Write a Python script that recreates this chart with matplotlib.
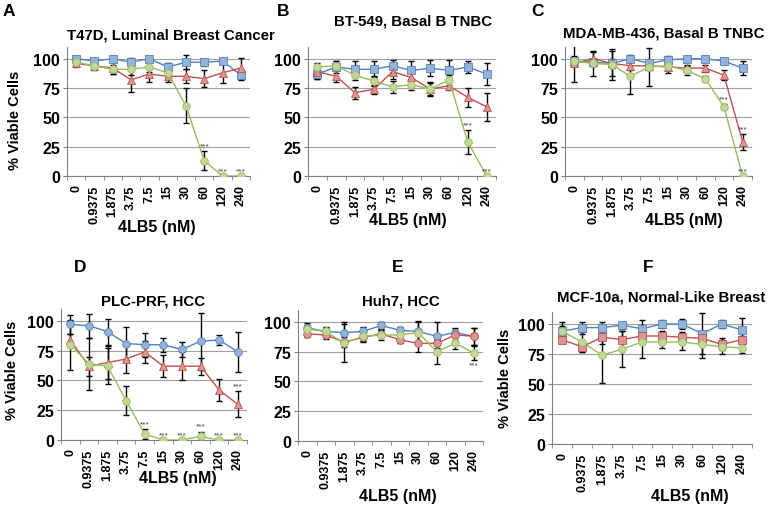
import numpy as np
import matplotlib
matplotlib.use("Agg")
import matplotlib.pyplot as plt

plt.rcParams['font.family'] = ['Liberation Sans', 'DejaVu Sans']
plt.rcParams['font.weight'] = 'bold'

# === data ===
doses = ["0", "0.9375", "1.875", "3.75", "7.5", "15", "30", "60", "120", "240"]

a_blue = [100, 98, 100, 97, 100, 93, 97, 97, 98, 86]
a_blue_err = [2, 3, 2, 4, 2, 3, 6, 3, 2, 4]
a_red = [96, 94, 92, 82, 87, 85, 85, 83, 88, 92]
a_red_err = [3, 4, 5, 10, 7, 5, 6, 7, 9, 9]
a_green = [97, 94, 91, 91, 93, 88, 60, 13, 0, 0]
a_green_err = [2, 3, 4, 5, 4, 4, 15, 8, 0, 0]

b_blue = [87, 93, 91, 91, 94, 90, 92, 90, 93, 87]
b_blue_err = [4, 5, 7, 7, 5, 8, 7, 9, 5, 9]
b_red = [89, 85, 71, 74, 89, 84, 74, 77, 67, 59]
b_red_err = [6, 5, 5, 4, 6, 8, 6, 4, 8, 12]
b_green = [93, 94, 86, 81, 76, 78, 74, 82, 29, 0]
b_green_err = [3, 4, 4, 4, 5, 5, 5, 4, 10, 0]

c_blue = [98, 97, 96, 100, 96, 99, 100, 100, 98, 92]
c_blue_err = [4, 3, 4, 3, 3, 3, 2, 2, 2, 6]
c_red = [96, 100, 96, 94, 94, 93, 92, 92, 86, 29]
c_red_err = [16, 6, 11, 4, 4, 3, 3, 3, 4, 7]
c_green = [98, 96, 95, 85, 93, 94, 90, 83, 59, 0]
c_green_err = [3, 11, 13, 15, 16, 6, 4, 2, 2, 0]

d_blue = [97, 96, 91, 81, 80, 80, 76, 83, 84, 74]
d_blue_err = [8, 10, 11, 14, 10, 6, 6, 24, 4, 17]
d_red = [84, 62, 65, 68, 74, 62, 62, 62, 42, 30]
d_red_err = [5, 8, 14, 12, 9, 9, 12, 7, 9, 11]
d_green = [80, 64, 62, 33, 5, 0, 0, 3, 0, 0]
d_green_err = [21, 22, 15, 12, 4, 0, 0, 4, 0, 0]

e_blue = [95, 92, 91, 92, 97, 93, 92, 88, 91, 88]
e_blue_err = [4, 4, 9, 4, 3, 3, 9, 12, 4, 7]
e_red = [90, 89, 83, 87, 90, 85, 82, 82, 89, 88]
e_red_err = [3, 3, 4, 4, 3, 3, 7, 4, 4, 7]
e_green = [94, 92, 82, 88, 89, 89, 91, 75, 82, 74]
e_green_err = [3, 3, 16, 4, 4, 4, 9, 10, 5, 6]

f_blue = [94, 97, 97, 99, 96, 100, 100, 92, 100, 95]
f_blue_err = [8, 5, 5, 3, 7, 3, 4, 17, 3, 10]
f_red = [87, 81, 89, 87, 90, 90, 89, 88, 83, 87]
f_red_err = [3, 4, 6, 7, 4, 4, 4, 3, 5, 3]
f_green = [94, 85, 74, 79, 85, 85, 85, 83, 81, 80]
f_green_err = [4, 8, 23, 15, 13, 5, 7, 11, 6, 4]

# significance marks: (series, index)
a_stars = [("green", 7), ("green", 8), ("green", 9)]
b_stars = [("green", 8), ("green", 9)]
c_stars = [("green", 8), ("red", 9), ("green", 9)]
d_stars = [("green", i) for i in range(4, 10)] + [("red", 9)]
e_stars = [("green", 9)]
f_stars = []

line_colors = {"blue": "#4F81BD", "red": "#C0504D", "green": "#9BBB59"}
face_colors = {"blue": "#95B3D7", "red": "#D99694", "green": "#C3D69B"}

W, H = 768, 510
fig = plt.figure(figsize=(W / 100, H / 100), dpi=100)


def px(x, y):
    return x / W, 1 - y / H


def draw_panel(box, letter, letter_xy, title, title_xy, xlabel_xy, ylabel_xy,
               series, markers, stars, stars_below=False):
    x0, x1, y0, y1 = box
    ax = fig.add_axes([x0 / W, 1 - y1 / H, (x1 - x0) / W, (y1 - y0) / H])
    x = np.arange(len(doses))
    for name in ["blue", "red", "green"]:
        mean, err = series[name]
        ax.errorbar(x, mean, yerr=err, fmt='none', ecolor='black', elinewidth=1.0,
                    capsize=2.5, capthick=1.0, zorder=2)
        ax.plot(x, mean, color=line_colors[name], lw=1.0, marker=markers[name], ms=5.5,
                mfc=face_colors[name], mec=line_colors[name], mew=0.6, zorder=3)
    for name, i in stars:
        mean, err = series[name]
        if stars_below:
            y = mean[i] - err[i] - 7
        else:
            y = mean[i] + err[i] + 1.5
        ax.text(i, y, "***", ha='center', va='bottom', fontsize=6, color='#404040',
                fontweight='normal')
    ax.set_xlim(-0.5, len(doses) - 0.5)
    ax.set_ylim(0, 110)
    ax.set_yticks([0, 25, 50, 75, 100])
    ax.yaxis.grid(True, color='#a0a0a0', lw=0.8)
    ax.set_axisbelow(True)
    ax.set_xticks(x)
    ax.set_xticklabels(doses, rotation=90, fontsize=9, fontweight='bold')
    ax.set_xticks(np.arange(len(doses) + 1) - 0.5, minor=True)
    ax.tick_params(axis='x', which='major', length=0, pad=6)
    ax.tick_params(axis='x', which='minor', length=3, color='#808080', direction='out')
    ax.tick_params(axis='y', length=3, color='#808080', labelsize=11.5, pad=2)
    for lab in ax.get_yticklabels():
        lab.set_fontweight('bold')
    for s in ['top', 'right']:
        ax.spines[s].set_visible(False)
    for s in ['left', 'bottom']:
        ax.spines[s].set_color('#808080')
        ax.spines[s].set_linewidth(0.8)

    fig.text(*px(*title_xy), title, fontsize=10.8, fontweight='bold', ha='center', va='center')
    fig.text(*px(*xlabel_xy), "4LB5 (nM)", fontsize=11.5, fontweight='bold',
             ha='center', va='center')
    if ylabel_xy is not None:
        fig.text(*px(*ylabel_xy), "% Viable Cells", fontsize=10.5, fontweight='bold',
                 ha='center', va='center', rotation=90)
    fig.text(*px(*letter_xy), letter, fontsize=12.5, fontweight='bold',
             ha='center', va='center')
    return ax


top_markers = {"blue": "s", "red": "^", "green": "o"}

draw_panel((67, 250, 48, 177), "A", (9, 12), "T47D, Luminal Breast Cancer", (171, 36),
           (157, 228), (15, 120),
           {"blue": (a_blue, a_blue_err), "red": (a_red, a_red_err), "green": (a_green, a_green_err)},
           top_markers, a_stars)
draw_panel((308, 496, 48, 177), "B", (283, 12), "BT-549, Basal B TNBC", (413, 22),
           (408, 220), None,
           {"blue": (b_blue, b_blue_err), "red": (b_red, b_red_err), "green": (b_green, b_green_err)},
           top_markers, b_stars)
draw_panel((565, 752, 48, 177), "C", (538, 12), "MDA-MB-436, Basal B TNBC", (664, 34),
           (684, 221), None,
           {"blue": (c_blue, c_blue_err), "red": (c_red, c_red_err), "green": (c_green, c_green_err)},
           top_markers, c_stars)
draw_panel((61, 247, 310, 441), "D", (80, 268), "PLC-PRF, HCC", (153, 302),
           (178, 479), (12, 370),
           {"blue": (d_blue, d_blue_err), "red": (d_red, d_red_err), "green": (d_green, d_green_err)},
           {"blue": "o", "red": "^", "green": "o"}, d_stars)
draw_panel((298, 483, 311, 442), "E", (398, 267), "Huh7, HCC", (401, 302),
           (398, 497), None,
           {"blue": (e_blue, e_blue_err), "red": (e_red, e_red_err), "green": (e_green, e_green_err)},
           {"blue": "o", "red": "o", "green": "o"}, e_stars, stars_below=True)
draw_panel((552, 752, 313, 445), "F", (648, 267), "MCF-10a, Normal-Like Breast", (661, 297),
           (690, 497), (505, 378),
           {"blue": (f_blue, f_blue_err), "red": (f_red, f_red_err), "green": (f_green, f_green_err)},
           {"blue": "s", "red": "s", "green": "o"}, f_stars)

fig.savefig("out.png", dpi=100)
